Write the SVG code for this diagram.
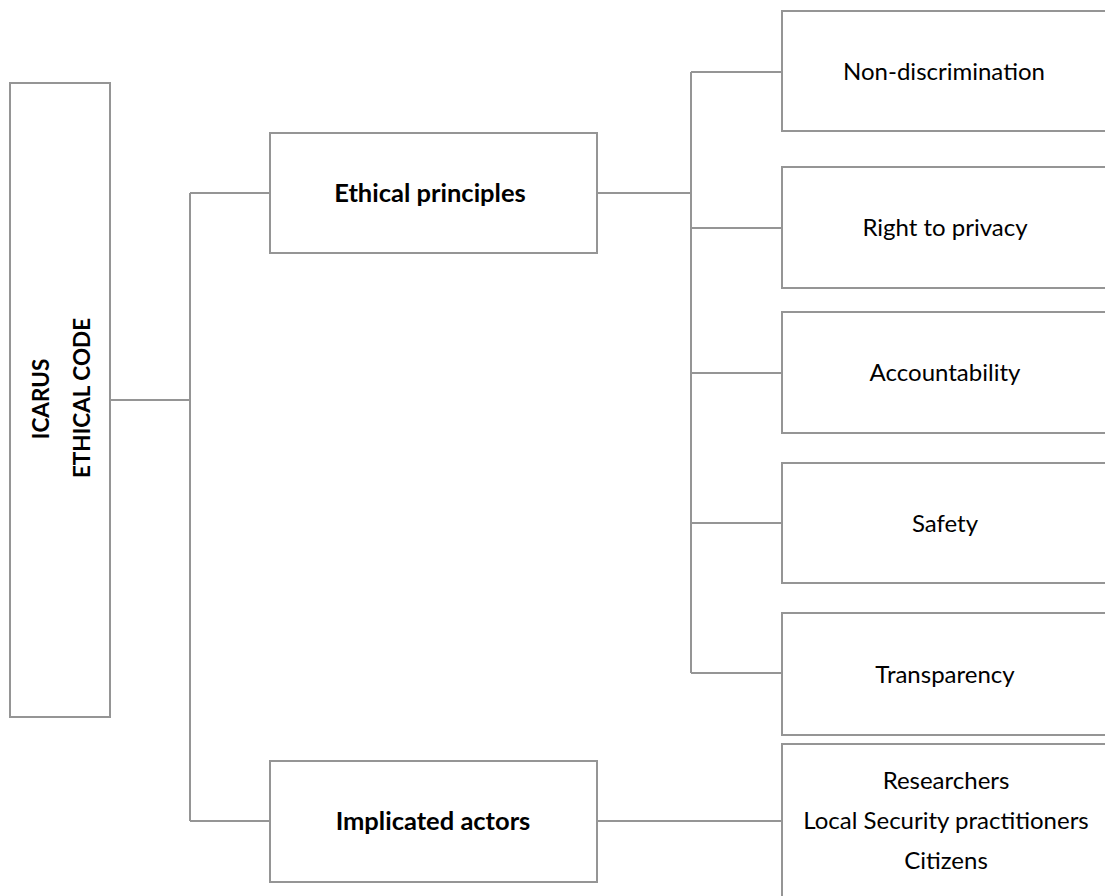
<svg xmlns="http://www.w3.org/2000/svg" width="1105" height="896" viewBox="0 0 1105 896">
<style>
.box{fill:#fff;stroke:#959595;stroke-width:2}
.con{fill:none;stroke:#959595;stroke-width:2}
.t{font-family:Lato,"Open Sans","Liberation Sans",sans-serif;font-size:24px;fill:#000;text-anchor:middle}
.b{font-weight:bold;font-size:25.5px}
.v{font-weight:bold;font-size:22.5px}
</style>
<rect width="1105" height="896" fill="#fff"/>
<g id="connectors">
<path class="con" d="M110 400H190M190 193V821M190 193H270M190 821H270"/>
<path class="con" d="M597 193H691M691 72V673M691 72H782M691 228H782M691 373H782M691 523H782M691 673H782"/>
<path class="con" d="M597 821H782"/>
</g>
<g id="root">
<rect class="box" x="10" y="83" width="100" height="634"/>
<text class="t v" transform="translate(49 399) rotate(-90)">ICARUS</text>
<text class="t v" transform="translate(90 398) rotate(-90)">ETHICAL CODE</text>
</g>
<g id="ethical">
<rect class="box" x="270" y="133" width="327" height="120"/>
<text class="t b" x="430" y="202">Ethical principles</text>
</g>
<g id="actors">
<rect class="box" x="270" y="761" width="327" height="121"/>
<text class="t b" x="433" y="830">Implicated actors</text>
</g>
<g id="nondisc">
<rect class="box" x="782" y="11" width="340" height="120"/>
<text class="t" x="944" y="80">Non-discrimination</text>
</g>
<g id="privacy">
<rect class="box" x="782" y="167" width="340" height="121"/>
<text class="t" x="945" y="236">Right to privacy</text>
</g>
<g id="accountability">
<rect class="box" x="782" y="312" width="340" height="121"/>
<text class="t" x="945" y="381">Accountability</text>
</g>
<g id="safety">
<rect class="box" x="782" y="463" width="340" height="120"/>
<text class="t" x="945" y="532">Safety</text>
</g>
<g id="transparency">
<rect class="box" x="782" y="613" width="340" height="122"/>
<text class="t" x="945" y="683">Transparency</text>
</g>
<g id="actorlist">
<rect class="box" x="782" y="744" width="340" height="180"/>
<text class="t" x="946" y="789">Researchers</text>
<text class="t" x="946" y="829">Local Security practitioners</text>
<text class="t" x="946" y="869">Citizens</text>
</g>
</svg>
